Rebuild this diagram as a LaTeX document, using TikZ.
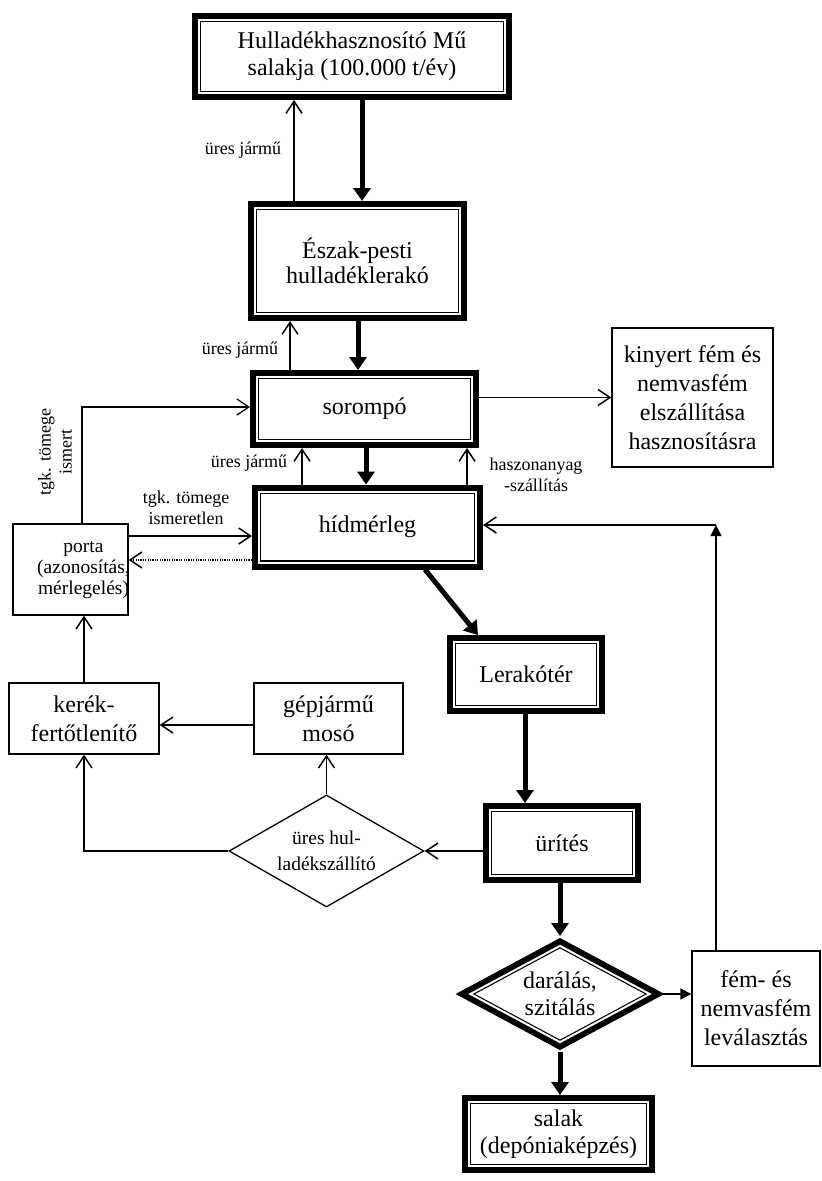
\documentclass[tikz,border=0pt]{standalone}
\usepackage{fontspec}
\setmainfont{Liberation Serif}
\usetikzlibrary{arrows.meta,shapes.geometric}
\begin{document}
\tikzset{
  bigf/.style={font=\fontsize{24}{27}\selectfont},
  smallf/.style={font=\fontsize{18}{21}\selectfont},
  dbox/.style={rectangle, inner sep=0pt, outer sep=7pt, fill=white,
     preaction={draw, line width=14pt},
     postaction={draw, line width=1.2pt, double=white, double distance=2pt},
     align=center, bigf},
  ddia/.style={diamond, shape aspect=1.8, inner sep=0pt, outer sep=7pt, fill=white,
     preaction={draw, line width=14pt},
     postaction={draw, line width=1.2pt, double=white, double distance=2pt},
     align=center, bigf},
  tbox/.style={rectangle, draw, line width=1.3pt, inner sep=0pt, align=center, bigf},
  thinarr/.style={line width=1.5pt, -{Straight Barb[length=12pt,width=16pt]}},
  thickarr/.style={line width=5pt, -{Triangle[length=13pt,width=17pt]}},
  tinytri/.style={line width=1.3pt, -{Triangle[length=11pt,width=11pt]}},
  lbl/.style={align=center, smallf, inner sep=0pt},
}
\begin{tikzpicture}[x=1pt,y=-1pt]
\useasboundingbox[fill=white] (0,0) rectangle (822,1181);
% main double-framed boxes
\node[dbox, minimum width=306pt, minimum height=73pt] (hmu) at (352,56.5) {Hulladékhasznosító Mű\\salakja (100.000 t/év)};
\node[dbox, minimum width=205pt, minimum height=106pt, font=\fontsize{24}{25}\selectfont] (eszak) at (357.5,261) {Észak-pesti\\hulladéklerakó};
\node[dbox, minimum width=215pt, minimum height=64pt] (soromp) at (364.5,409) {sorompó};
\node[dbox, minimum width=217pt, minimum height=71pt] (hid) at (367.5,527) {hídmérleg};
\node[dbox, minimum width=144pt, minimum height=65pt] (lerako) at (526,674.5) {Lerakótér};
\node[dbox, minimum width=144pt, minimum height=66pt] (urites) at (562,843) {ürítés};
\node[ddia, minimum width=185pt, minimum height=102pt] (dar) at (560,994) {darálás,\\szitálás};
\node[dbox, minimum width=179pt, minimum height=64pt] (salak) at (558.5,1134) {salak\\(depóniaképzés)};
% thin boxes
\node[tbox, minimum width=161pt, minimum height=139pt, font=\fontsize{24}{29}\selectfont] (kinyert) at (692.5,397.5) {kinyert fém és\\nemvasfém\\elszállítása\\hasznosításra};
\node[tbox, minimum width=115pt, minimum height=91pt, font=\fontsize{19.5}{21}\selectfont] (porta) at (70.5,569.5) {\makebox[0pt]{\hspace{26pt}\begin{tabular}{@{}c@{}}porta\\(azonosítás,\\mérlegelés)\end{tabular}}};
\node[tbox, minimum width=150pt, minimum height=71pt, font=\fontsize{24}{29}\selectfont] (ker) at (84,718.5) {kerék-\\fertőtlenítő};
\node[tbox, minimum width=149pt, minimum height=71pt, font=\fontsize{24}{29}\selectfont] (gep) at (328.5,718.5) {gépjármű\\mosó};
\node[tbox, minimum width=128pt, minimum height=115pt, font=\fontsize{24}{29}\selectfont] (fem) at (756,1008.5) {fém- és\\nemvasfém\\leválasztás};
\node[diamond, draw, line width=1.3pt, shape aspect=1.74, inner sep=0pt, minimum width=195pt, minimum height=112pt, align=center, font=\fontsize{19.5}{26}\selectfont] (dia2) at (326.5,851) {üres hul-\\ladékszállító};
% labels
\node[lbl] (l1) at (243,150) {üres jármű};
\node[lbl] (l2) at (240,350) {üres jármű};
\node[lbl] (l3) at (249,463) {üres jármű};
\node[lbl] (l4) at (536,475) {haszonanyag\\-szállítás};
\node[lbl] (l5) at (186,508) {tgk. tömege\\ismeretlen};
\node[lbl, rotate=90] (l6) at (55,452) {tgk. tömege\\ismert};
% connectors
\draw[thickarr] ([xshift=10pt]hmu.south) -- ([xshift=4.5pt]eszak.north);
\draw[thinarr] ([xshift=-63.5pt]eszak.north) -- ([xshift=-58pt]hmu.south);
\draw[thickarr] ([xshift=0.5pt]eszak.south) -- ([xshift=-6.5pt]soromp.north);
\draw[thinarr] ([xshift=-74.5pt]soromp.north) -- ([xshift=-67.5pt]eszak.south);
\draw[thinarr] ([xshift=-65.5pt]hid.north) -- ([xshift=-62.5pt]soromp.south);
\draw[thickarr] ([xshift=1.5pt]soromp.south) -- ([xshift=-1.5pt]hid.north);
\draw[thinarr] ([xshift=99.5pt]hid.north) -- ([xshift=102.5pt]soromp.south);
\draw[thinarr] (soromp.east |- kinyert.west) -- (kinyert.west);
\draw[thinarr, line width=1.2pt] ([xshift=11.5pt]porta.north) |- ([yshift=2pt]soromp.west);
\draw[thinarr] ([yshift=33.5pt]porta.east) -- ([yshift=-9pt]hid.west);
\draw[line width=2pt, dash pattern=on 1.2pt off 1.2pt, -{Straight Barb[length=12pt,width=16pt,line width=1.5pt]}] ([yshift=-33pt]hid.west) -- ([yshift=9.5pt]porta.east);
\draw[thickarr] ([xshift=57.5pt]hid.south) -- ([xshift=-48pt]lerako.north);
\draw[thickarr] ([xshift=-1pt]lerako.south) -- ([xshift=-37pt]urites.north);
\draw[thinarr] (urites.west |- dia2.east) -- (dia2.east);
\draw[thinarr] (dia2.north) -- (dia2.north |- gep.south);
\draw[thinarr] (dia2.west) -| (ker.south);
\draw[thinarr] ([yshift=-6.5pt]gep.west) -- ([yshift=-6.5pt]ker.east);
\draw[thinarr] (ker.north) -- (ker.north |- porta.south);
\draw[thickarr] ([xshift=-2pt]urites.south) -- (dar.north);
\draw[thickarr] (dar.south) -- (dar.south |- salak.north);
\draw[tinytri] (dar.east) -- (dar.east -| fem.west);
\coordinate (corner) at (716,525);
\draw[tinytri] ([xshift=-40pt]fem.north) -- (corner);
\draw[thinarr] (corner) -- ([yshift=2pt]hid.east);
\end{tikzpicture}
\end{document}
